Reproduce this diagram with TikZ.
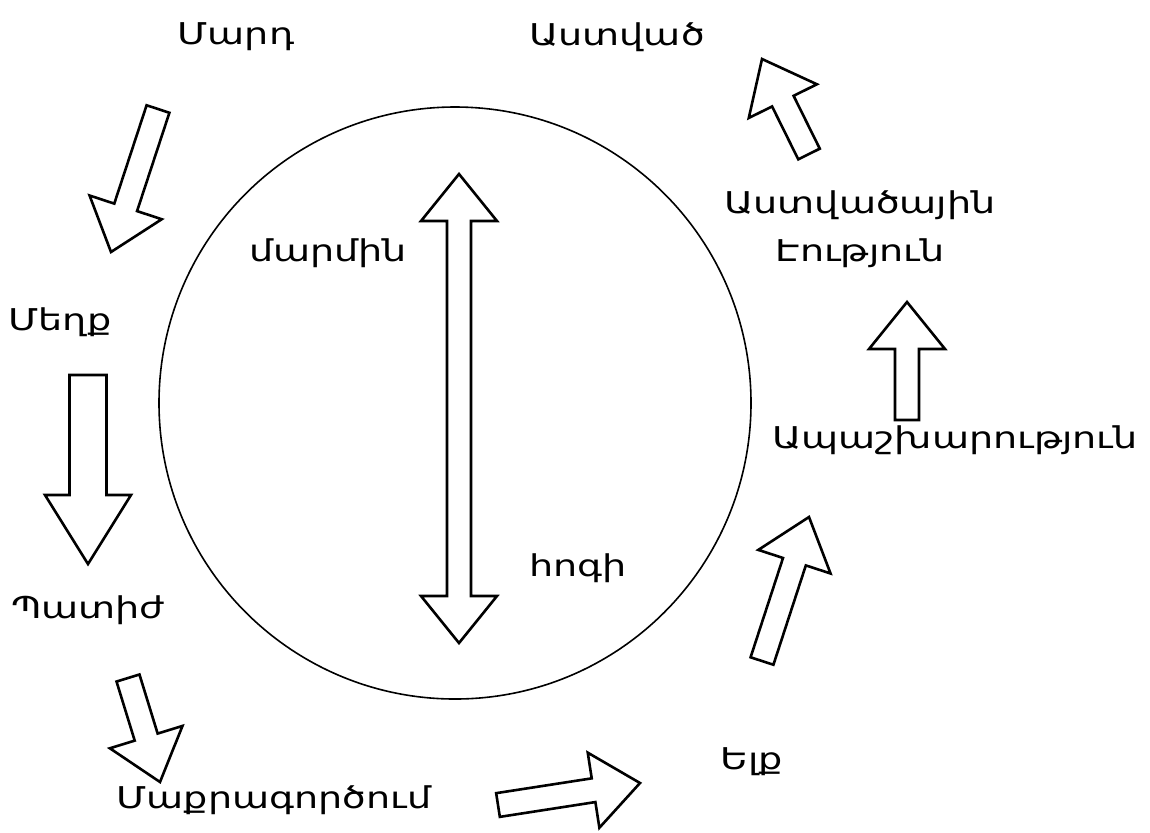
\documentclass[tikz,border=0pt]{standalone}
\usepackage{fontspec}
\setmainfont[FakeStretch=1.27]{DejaVu Sans}
\usetikzlibrary{calc}

\tikzset{
  arrshaft/.store in=\shaftw, arrhead/.store in=\headw, arrtip/.store in=\tipl,
  arrshaft=6pt, arrhead=19pt, arrtip=23.5pt,
  fat/.style={draw, line width=1.3pt, fill=white, line join=miter,
    to path={
      ($(\tikztostart)!\shaftw!90:(\tikztotarget)$)
      -- ($(\tikztotarget)!\tipl!(\tikztostart)!\shaftw!90:(\tikztotarget)$)
      -- ($(\tikztotarget)!\tipl!(\tikztostart)!\headw!90:(\tikztotarget)$)
      -- (\tikztotarget)
      -- ($(\tikztotarget)!\tipl!(\tikztostart)!\headw!-90:(\tikztotarget)$)
      -- ($(\tikztotarget)!\tipl!(\tikztostart)!\shaftw!-90:(\tikztotarget)$)
      -- ($(\tikztostart)!\shaftw!-90:(\tikztotarget)$) -- cycle}},
  fatboth/.style={draw, line width=1.3pt, fill=white, line join=miter,
    to path={
      (\tikztostart)
      -- ($(\tikztostart)!\tipl!(\tikztotarget)!\headw!90:(\tikztotarget)$)
      -- ($(\tikztostart)!\tipl!(\tikztotarget)!\shaftw!90:(\tikztotarget)$)
      -- ($(\tikztotarget)!\tipl!(\tikztostart)!\shaftw!90:(\tikztotarget)$)
      -- ($(\tikztotarget)!\tipl!(\tikztostart)!\headw!90:(\tikztotarget)$)
      -- (\tikztotarget)
      -- ($(\tikztotarget)!\tipl!(\tikztostart)!\headw!-90:(\tikztotarget)$)
      -- ($(\tikztotarget)!\tipl!(\tikztostart)!\shaftw!-90:(\tikztotarget)$)
      -- ($(\tikztostart)!\tipl!(\tikztotarget)!\shaftw!-90:(\tikztotarget)$)
      -- ($(\tikztostart)!\tipl!(\tikztotarget)!\headw!-90:(\tikztotarget)$)
      -- cycle}}
}

\begin{document}
\begin{tikzpicture}[
  x=0.5pt, y=-0.5pt,
  every node/.style={font=\fontsize{15}{24}\selectfont, align=center},
  wide/.style={arrshaft=9.25pt, arrhead=21.5pt, arrtip=34.5pt}
]
  \useasboundingbox (0,0) rectangle (1150,832);

  \node[draw, circle, line width=0.8pt, minimum size=296pt, inner sep=0pt] (ring) at (455,403) {};

  % labels
  \node (mard)   at (236,37)  {Մարդ};
  \node (astvac) at (617,37)  {Աստված};
  \node (eutyun) at (860,229) {Աստվածային\\Էություն};
  \node (marmin) at (328,253) {մարմին};
  \node (meghq)  at (60,322)  {Մեղք};
  \node (apash)  at (955,440) {Ապաշխարություն};
  \node (hogi)   at (578,568) {հոգի};
  \node (patij)  at (88,610)  {Պատիժ};
  \node (elq)    at (752,762) {Ելք};
  \node (maqr)   at (274,800) {Մաքրագործում};

  % arrow ends
  \coordinate (a1s) at (158,109); \coordinate (a1e) at (111,252);
  \coordinate (a2s) at (88,375);  \coordinate (a2e) at (88,564);
  \coordinate (a3s) at (128,678); \coordinate (a3e) at (160,782);
  \coordinate (a4s) at (498,805); \coordinate (a4e) at (640,783);
  \coordinate (a5s) at (762,661); \coordinate (a5e) at (809,517);
  \coordinate (a6s) at (907,420); \coordinate (a6e) at (907,302);
  \coordinate (a7s) at (809,154); \coordinate (a7e) at (762,59);
  \coordinate (top) at (459,174); \coordinate (bot) at (459,643);

  \draw[fat] (a1s) to (a1e);
  \draw[fat, wide] (a2s) to (a2e);
  \draw[fat] (a3s) to (a3e);
  \draw[fat] (a4s) to (a4e);
  \draw[fat] (a5s) to (a5e);
  \draw[fat] (a6s) to (a6e);
  \draw[fat] (a7s) to (a7e);
  \draw[fatboth] (top) to (bot);
\end{tikzpicture}
\end{document}
